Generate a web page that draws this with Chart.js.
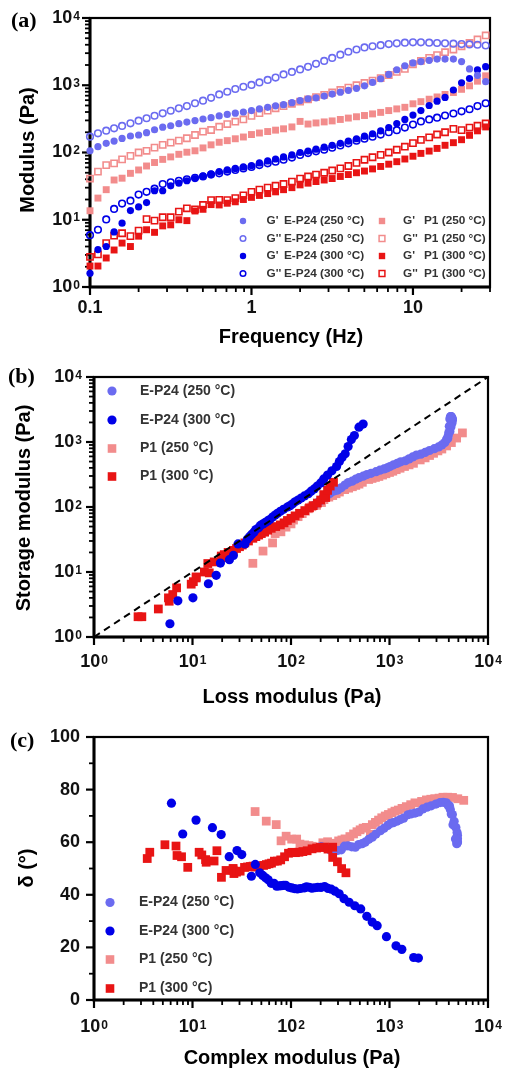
<!DOCTYPE html>
<html><head><meta charset="utf-8">
<script src="https://cdn.jsdelivr.net/npm/chart.js@4.4.0/dist/chart.umd.min.js"></script>
<style>
html,body{margin:0;padding:0;background:#fff;}
#wrap{position:relative;width:506px;height:1071px;overflow:hidden;}
canvas{position:absolute;left:0;}
</style></head><body>
<div id="wrap">
<canvas id="ca" style="top:0px" width="506" height="350"></canvas>
<canvas id="cb" style="top:350px" width="506" height="360"></canvas>
<canvas id="cc" style="top:710px" width="506" height="361"></canvas>
</div>
<script>
// ---------- data ----------
const frequencyHz = [0.1,0.112,0.126,0.141,0.158,0.178,0.2,0.224,0.251,0.282,0.316,0.355,0.398,0.447,0.501,0.562,0.631,0.708,0.794,0.891,1,1.12,1.26,1.41,1.58,1.78,2,2.24,2.51,2.82,3.16,3.55,3.98,4.47,5.01,5.62,6.31,7.08,7.94,8.91,10,11.2,12.6,14.1,15.8,17.8,20,22.4,25.1,28.2];
// storage modulus G' (Pa)
const gpE250 = [106,122,137,148,162,176,182,197,218,238,250,268,283,298,315,330,350,368,385,400,420,445,470,495,515,550,590,630,650,690,740,790,840,900,980,1100,1250,1450,1700,1950,2150,2250,2350,2450,2450,2450,2250,1750,1400,1130];
const gpE300 = [1.6,3.6,4.0,6.6,8.9,13.7,15.5,18,27,27,32,35,38,41,45,48,52,55,58,61,64,70,75,80,86,92,100,105,112,120,128,137,148,160,175,190,210,235,270,310,360,420,500,580,660,850,1090,1260,1690,1890];
const gpP250 = [13.6,21,28,39,41.5,49,55,63,71,79,86,94,101,106,117,130,142,150,160,170,185,195,205,215,225,240,290,265,275,285,295,310,325,340,355,375,395,420,445,470,530,570,620,670,730,780,870,980,1150,1380];
const gpP300 = [2.05,2.05,2.7,3.55,4.5,4.0,5.7,7.1,6.5,8.1,8.4,10,9.7,13.5,14.3,16.8,16.6,17.6,18.5,20,21.5,23,24.5,26,28,30,33,35,37,39,41,44,47,50,53,57,62,67,73,80,88,97,105,115,128,140,155,180,210,240];
// loss modulus G'' (Pa)
const gppE250 = [172,193,211,229,248,272,297,323,352,382,418,454,490,540,590,650,730,800,880,950,1010,1100,1200,1300,1450,1580,1720,1880,2080,2300,2550,2850,3150,3400,3650,3800,3950,4100,4200,4300,4350,4350,4300,4250,4200,4150,4100,4050,4000,3900];
const gppE300 = [5.9,7.1,10.1,14.5,17.4,19.2,23.7,26,29,34,36,38,40,42,44,47,49,52,55,58,61,65,69,73,78,84,92,98,104,110,118,127,137,150,160,172,185,200,215,235,260,290,310,330,355,380,410,440,490,540];
const gppP250 = [41,52,65,69,79,89,100,106,118,130,140,150,163,182,204,216,242,265,287,310,350,385,420,455,490,530,570,615,665,720,780,850,920,1000,1080,1170,1280,1420,1580,1750,2050,2300,2550,2800,3100,3400,3800,4250,4800,5500];
const gppP300 = [2.8,3.06,4.5,5.8,6.3,5.7,6.9,10.2,9.7,10.9,10.9,13.2,14.8,14.3,16.6,19.6,19.8,19.6,21,23,26,28,30,32,34,37,41,44,47,50,54,58,63,70,78,85,92,100,110,122,138,154,168,185,200,225,215,235,250,270];
// reference line G' = G'' in panel (b)
const diagonal = [{x:1,y:1},{x:10000,y:10000}];

// tick values and labels
const freqTicks = [0.1,1,10];
const freqTickLabels = ['0.1','1','10'];
const decadeTicks = [1,10,100,1000,10000];
const decadeExponents = ['0','1','2','3','4'];
const deltaTicks = [0,20,40,60,80,100];
const deltaTickLabels = ['0','20','40','60','80','100'];
const deltaMinorTicks = [10,30,50,70,90];

const seriesNamesA = [
  ["G'","E-P24 (250 °C)"],["G''","E-P24 (250 °C)"],["G'","E-P24 (300 °C)"],["G''","E-P24 (300 °C)"],
  ["G'","P1 (250 °C)"],["G''","P1 (250 °C)"],["G'","P1 (300 °C)"],["G''","P1 (300 °C)"]];
const sampleNames = ['E-P24 (250 °C)','E-P24 (300 °C)','P1 (250 °C)','P1 (300 °C)'];

const LB = '#6b6bf0', DB = '#0000e8', PK = '#f28c8c', RD = '#e81414';
const FONT = "'Liberation Sans', Arial, Helvetica, sans-serif";
const SERIF = "'Liberation Serif', 'Times New Roman', serif";

function pts(xs, ys){ return xs.map((x,i)=>({x:x, y:ys[i]})); }
function minorsLog(lo, hi){ const out=[]; for(let d=lo; d<hi; d*=10){ for(let k=2;k<=9;k++){ out.push(+(d*k).toPrecision(3)); } } return out; }

function marker(ctx, shape, fill, color, r, x, y, bw){
  ctx.save();
  ctx.beginPath();
  if(shape==='circle'){ ctx.arc(x,y,r,0,Math.PI*2); }
  else { ctx.rect(x-r,y-r,2*r,2*r); }
  if(fill){ ctx.fillStyle=color; ctx.fill(); }
  else { ctx.lineWidth=bw||1.6; ctx.strokeStyle=color; ctx.stroke(); }
  ctx.restore();
}

function powLabel(ctx, base, exp, x, y, align){
  ctx.font = 'bold 18px '+FONT;
  const wb = ctx.measureText(base).width;
  let we = 0;
  if(exp){ ctx.font='bold 12px '+FONT; we = ctx.measureText(exp).width+1; }
  const left = align==='right' ? x-wb-we : x-(wb+we)/2;
  ctx.fillStyle='#111'; ctx.textAlign='left'; ctx.textBaseline='middle';
  ctx.font='bold 18px '+FONT; ctx.fillText(base, left, y);
  if(exp){ ctx.font='bold 12px '+FONT; ctx.textBaseline='alphabetic'; ctx.fillText(exp, left+wb+1, y+1.5); }
}

function decorPlugin(d){
  return {
    id:'decor'+d.letter,
    beforeDatasetsDraw(chart){
      const {ctx, chartArea:a, scales:{x:xs, y:ys}} = chart;
      ctx.save();
      ctx.strokeStyle='#000';
      const tick = (v, axis, len, w) => {
        ctx.lineWidth=w; ctx.beginPath();
        if(axis==='x'){ const p=xs.getPixelForValue(v); ctx.moveTo(p,a.bottom); ctx.lineTo(p,a.bottom+len); }
        else { const p=ys.getPixelForValue(v); ctx.moveTo(a.left,p); ctx.lineTo(a.left-len,p); }
        ctx.stroke();
      };
      d.xMajor.forEach(v=>tick(v,'x',8,2.2));
      d.xMinor.forEach(v=>tick(v,'x',5,1.8));
      d.yMajor.forEach(v=>tick(v,'y',8,2.2));
      d.yMinor.forEach(v=>tick(v,'y',5,1.8));
      ctx.lineWidth=2.2;
      ctx.strokeRect(a.left, a.top, a.right-a.left, a.bottom-a.top);
      ctx.lineWidth=3;
      ctx.beginPath(); ctx.moveTo(a.left, a.top-1); ctx.lineTo(a.left, a.bottom); ctx.lineTo(a.right+1, a.bottom); ctx.stroke();
      ctx.restore();
    },
    afterDraw(chart){
      const {ctx, chartArea:a, scales:{x:xs, y:ys}} = chart;
      ctx.save();
      d.xMajor.forEach((v,i)=>{ const l=d.xLabels[i]; powLabel(ctx, l[0], l[1], xs.getPixelForValue(v), d.xLabelY, 'center'); });
      d.yMajor.forEach((v,i)=>{ const l=d.yLabels[i]; powLabel(ctx, l[0], l[1], d.yLabelRight, ys.getPixelForValue(v), 'right'); });
      ctx.fillStyle='#000'; ctx.font='bold 20px '+FONT; ctx.textAlign='center'; ctx.textBaseline='middle';
      ctx.fillText(d.xTitle, d.xTitlePos[0], d.xTitlePos[1]);
      ctx.save(); ctx.translate(d.yTitlePos[0], d.yTitlePos[1]); ctx.rotate(-Math.PI/2);
      ctx.fillText(d.yTitle, 0, 0); ctx.restore();
      ctx.font='bold 22px '+SERIF; ctx.textAlign='left'; ctx.textBaseline='alphabetic';
      ctx.fillText(d.letter, d.letterPos[0], d.letterPos[1]);
      d.legend.forEach(it=>{
        marker(ctx, it.shape, it.fill, it.color, it.r, it.mx, it.y, it.bw);
        ctx.fillStyle='#333'; ctx.font=it.font; ctx.textAlign='left'; ctx.textBaseline='middle';
        if(it.prefix!==undefined){ ctx.fillText(it.prefix, it.tx, it.y); ctx.fillText(it.text, it.tx2, it.y); }
        else ctx.fillText(it.text, it.tx, it.y);
      });
      ctx.restore();
    }
  };
}

function baseOptions(d, xType, xMin, xMax, yType, yMin, yMax){
  return {
    responsive:false, animation:false, devicePixelRatio:1, events:[],
    layout:{padding:{left:0, right:d.padRight, top:d.padTop, bottom:0}},
    plugins:{legend:{display:false}, tooltip:{enabled:false}},
    scales:{
      x:{type:xType, min:xMin, max:xMax, position:'bottom', ticks:{display:false}, grid:{display:false}, border:{display:false}, afterFit:(s)=>{ s.height=d.xH; }},
      y:{type:yType, min:yMin, max:yMax, position:'left', ticks:{display:false}, grid:{display:false}, border:{display:false}, afterFit:(s)=>{ s.width=d.yW; }}
    }
  };
}

function ds(label, data, color, shape, fill, r, order){
  return {label, data, pointStyle: shape==='circle'?'circle':'rect', pointRadius:r, pointHoverRadius:r,
    pointBackgroundColor: fill?color:'rgba(255,255,255,0)', pointBorderColor: color,
    pointBorderWidth: fill?0:1.6, showLine:false, clip:false, order:order||0};
}

// ---------- panel (a) ----------
const powLabels = decadeExponents.map(e=>['10',e]);
const legA = [];
const colA = [[LB,'circle',true],[LB,'circle',false],[DB,'circle',true],[DB,'circle',false],[PK,'rect',true],[PK,'rect',false],[RD,'rect',true],[RD,'rect',false]];
const rowY = [221,238.5,256,273.5];
seriesNamesA.forEach((n,i)=>{
  const col = i<4?0:1, row=i%4, c=colA[i];
  legA.push({shape:c[1], fill:c[2], color:c[0], r: c[1]==='circle'?(c[2]?3.2:2.8):(c[2]?3.2:2.9), bw:1.5,
    mx: col?382:243, y: rowY[row], prefix:n[0], text:n[1], tx: col?403:266.5, tx2: col?424:284, font:'bold 11.8px '+FONT});
});
const decA = {letter:'(a)', letterPos:[11,27], padRight:16, padTop:18, xH:350-287, yW:90,
  xMajor:freqTicks, xMinor:[0.2,0.3,0.4,0.5,0.6,0.7,0.8,0.9,2,3,4,5,6,7,8,9,20,30], xLabels:freqTickLabels.map(t=>[t,'']),
  yMajor:decadeTicks, yMinor:minorsLog(1,10000), yLabels:powLabels,
  xLabelY:308.5, yLabelRight:80, xTitle:'Frequency (Hz)', xTitlePos:[291,337], yTitle:'Modulus (Pa)', yTitlePos:[28,150], legend:legA};
new Chart(document.getElementById('ca'), {
  type:'scatter',
  data:{datasets:[
    ds(seriesNamesA[0].join(' '), pts(frequencyHz,gpE250), LB,'circle',true,3.6),
    ds(seriesNamesA[1].join(' '), pts(frequencyHz,gppE250), LB,'circle',false,3.3),
    ds(seriesNamesA[2].join(' '), pts(frequencyHz,gpE300), DB,'circle',true,3.6),
    ds(seriesNamesA[3].join(' '), pts(frequencyHz,gppE300), DB,'circle',false,3.3),
    ds(seriesNamesA[4].join(' '), pts(frequencyHz,gpP250), PK,'rect',true,4.9),
    ds(seriesNamesA[5].join(' '), pts(frequencyHz,gppP250), PK,'rect',false,4.4),
    ds(seriesNamesA[6].join(' '), pts(frequencyHz,gpP300), RD,'rect',true,4.9),
    ds(seriesNamesA[7].join(' '), pts(frequencyHz,gppP300), RD,'rect',false,4.4)
  ]},
  options: baseOptions(decA,'logarithmic',0.1,30,'logarithmic',1,10000),
  plugins:[decorPlugin(decA)]
});

// ---------- panel (b): G' against G'' ----------
const styleBC = [[LB,'circle',true,4.6,2],[DB,'circle',true,4.6,0],[PK,'rect',true,6.2,3],[RD,'rect',true,6.2,1]];
function legendBC(mx, tx, ys){
  return sampleNames.map((n,i)=>({shape:styleBC[i][1], fill:true, color:styleBC[i][0], r: styleBC[i][1]==='circle'?4.6:4.3,
    mx, y:ys[i], text:n, tx, font:'bold 14px '+FONT}));
}
const decB = {letter:'(b)', letterPos:[8,33], padRight:18, padTop:27, xH:360-287, yW:94,
  xMajor:decadeTicks, xMinor:minorsLog(1,10000), xLabels:powLabels,
  yMajor:decadeTicks, yMinor:minorsLog(1,10000), yLabels:powLabels,
  xLabelY:312, yLabelRight:82, xTitle:'Loss modulus (Pa)', xTitlePos:[292,347], yTitle:'Storage modulus (Pa)', yTitlePos:[24,158],
  legend:legendBC(112,140,[41,70,98.5,126.5])};
const pairsB = [[gppE250,gpE250],[gppE300,gpE300],[gppP250,gpP250],[gppP300,gpP300]];
new Chart(document.getElementById('cb'), {
  type:'scatter',
  data:{datasets: pairsB.map((p,i)=>ds(sampleNames[i], pts(p[0],p[1]), styleBC[i][0], styleBC[i][1], true, styleBC[i][3], styleBC[i][4]))
    .concat([{label:'G\' = G\'\'', type:'line', data:diagonal, showLine:true, borderColor:'#000', borderWidth:2, borderDash:[7,5], pointRadius:0, fill:false, clip:false, order:-1}])},
  options: baseOptions(decB,'logarithmic',1,10000,'logarithmic',1,10000),
  plugins:[decorPlugin(decB)]
});

// ---------- panel (c): phase angle against complex modulus, from the same G', G'' ----------
function phaseAngle(gp, gpp){ return gp.map((v,i)=>Math.atan2(gpp[i], v)*180/Math.PI); }
function complexModulus(gp, gpp){ return gp.map((v,i)=>Math.hypot(v, gpp[i])); }
const pairsC = [[gpE250,gppE250],[gpE300,gppE300],[gpP250,gppP250],[gpP300,gppP300]];
const decC = {letter:'(c)', letterPos:[10,37], padRight:18, padTop:27, xH:361-290, yW:94,
  xMajor:decadeTicks, xMinor:minorsLog(1,10000), xLabels:powLabels,
  yMajor:deltaTicks, yMinor:deltaMinorTicks, yLabels:deltaTickLabels.map(t=>[t,'']),
  xLabelY:317, yLabelRight:80, xTitle:'Complex modulus (Pa)', xTitlePos:[292,348], yTitle:'δ (°)', yTitlePos:[27,158],
  legend:legendBC(110,139,[192.5,221,249.5,278.5])};
new Chart(document.getElementById('cc'), {
  type:'scatter',
  data:{datasets: pairsC.map((p,i)=>ds(sampleNames[i], pts(complexModulus(p[0],p[1]), phaseAngle(p[0],p[1])), styleBC[i][0], styleBC[i][1], true, styleBC[i][3], styleBC[i][4]))},
  options: baseOptions(decC,'logarithmic',1,10000,'linear',0,100),
  plugins:[decorPlugin(decC)]
});
</script>
</body></html>
